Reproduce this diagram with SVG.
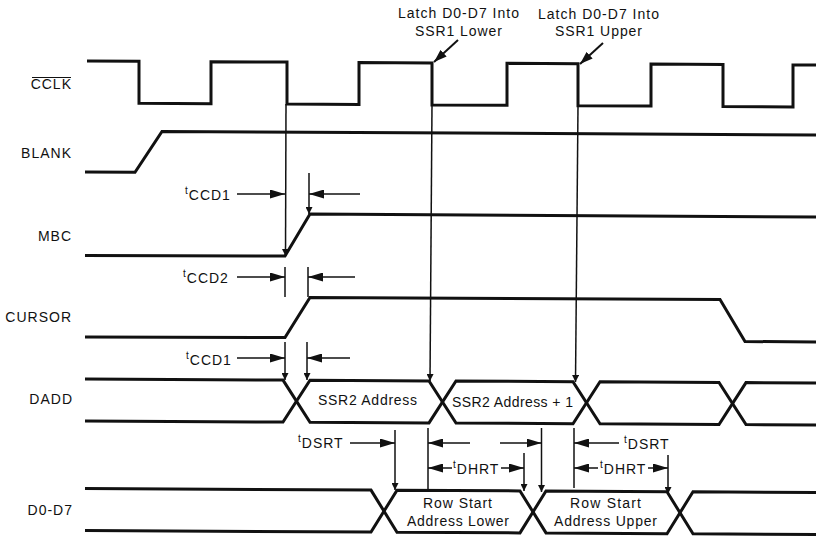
<svg xmlns="http://www.w3.org/2000/svg" width="816" height="537" viewBox="0 0 816 537">
<style>
text{font-family:"Liberation Sans",Arial,sans-serif;font-size:14px;fill:#111;letter-spacing:1px}
.lbl{text-anchor:end}
.t{font-size:10px}
.wave{fill:none;stroke:#111;stroke-width:3;stroke-linejoin:miter}
.ref{fill:none;stroke:#111;stroke-width:1.5}
.dim{fill:none;stroke:#111;stroke-width:1.5;marker-end:url(#ah)}
.refm{fill:none;stroke:#111;stroke-width:1.5;marker-end:url(#tip)}
</style>
<defs>
<marker id="ah" markerUnits="userSpaceOnUse" markerWidth="15" markerHeight="9" refX="15" refY="4.5" orient="auto"><path d="M0,0 L15,4.5 L0,9 Z" fill="#111"/></marker>
<marker id="tip" markerUnits="userSpaceOnUse" markerWidth="7" markerHeight="7" refX="7" refY="3.5" orient="auto"><path d="M0,0 L7,3.5 L0,7 Z" fill="#111"/></marker>
<marker id="lah" markerUnits="userSpaceOnUse" markerWidth="13" markerHeight="9" refX="13" refY="4.5" orient="auto"><path d="M0,0 L13,4.5 L0,9 Z" fill="#111"/></marker>
</defs>
<rect width="816" height="537" fill="#fff"/>

<g id="cclk">
<text class="lbl" x="72" y="89">CCLK</text>
<line x1="32" y1="77.5" x2="71" y2="77.5" stroke="#111" stroke-width="1.2"/>
<polyline class="wave" points="87,61 139,61.3 139,103.3 211,103.7 211,61.7 287,62.1 287,104.1 359,104.5 359,62.5 432,62.9 432,104.9 507,105.3 507,63.3 578,63.7 578,105.7 651,106.1 651,64.1 723,64.5 723,106.5 793,106.9 793,64.9 816,65"/>
</g>

<g id="blank">
<text class="lbl" x="72" y="158">BLANK</text>
<polyline class="wave" points="85,172 135,172.3 162,131.4 816,135"/>
</g>

<g id="mbc">
<text class="lbl" x="72" y="241">MBC</text>
<polyline class="wave" points="85,255.5 285,256 310,214 816,217"/>
</g>

<g id="cursor">
<text class="lbl" x="72" y="322">CURSOR</text>
<polyline class="wave" points="85,337 285,337.5 310,297.5 720,299.5 745,341.5 816,342"/>
</g>

<g id="dadd">
<text class="lbl" x="73" y="404">DADD</text>
<polyline class="wave" points="85,379 283,380.1 310,422.2 429,422.9 456,381 573,381.7 600,423.8 719,424.5 746,382.6 816,383"/>
<polyline class="wave" points="85,421 283,422.1 310,380.2 429,380.9 456,423 573,423.7 600,381.8 719,382.5 746,424.6 816,425"/>
<text x="318" y="405" textLength="100" lengthAdjust="spacing">SSR2 Address</text>
<text x="452" y="407" textLength="122" lengthAdjust="spacing">SSR2 Address + 1</text>
</g>

<g id="d0d7">
<text class="lbl" x="73" y="515">D0-D7</text>
<polyline class="wave" points="85,488.5 371,490.1 397,532.2 520,532.9 546,491 667,491.7 693,533.8 816,534.5"/>
<polyline class="wave" points="85,530.5 371,532.1 397,490.2 520,490.9 546,532.9 667,533.7 693,491.8 816,492.5"/>
<text x="423" y="508" textLength="70" lengthAdjust="spacing">Row Start</text>
<text x="407" y="526" textLength="103" lengthAdjust="spacing">Address Lower</text>
<text x="570" y="508" textLength="72" lengthAdjust="spacing">Row Start</text>
<text x="554" y="526" textLength="104" lengthAdjust="spacing">Address Upper</text>
</g>

<g id="latch-lower">
<text x="398" y="18" textLength="122" lengthAdjust="spacing">Latch D0-D7 Into</text>
<text x="415" y="36" textLength="88" lengthAdjust="spacing">SSR1 Lower</text>
</g>
<g id="latch-upper">
<text x="538" y="19" textLength="122" lengthAdjust="spacing">Latch D0-D7 Into</text>
<text x="555" y="36" textLength="88" lengthAdjust="spacing">SSR1 Upper</text>
</g>

<g id="connectors">
<!-- latch callouts -->
<line x1="458" y1="40" x2="434" y2="62" stroke="#111" stroke-width="2" marker-end="url(#lah)"/>
<line x1="603" y1="43" x2="580" y2="64" stroke="#111" stroke-width="2" marker-end="url(#lah)"/>

<!-- reference verticals -->
<line class="refm" x1="286" y1="104" x2="285.5" y2="256"/>
<line class="ref" x1="285" y1="267" x2="285" y2="297"/>
<line class="refm" x1="285" y1="342" x2="285" y2="380"/>
<line class="refm" x1="309" y1="173" x2="309" y2="214"/>
<line class="ref" x1="308" y1="267" x2="308" y2="297"/>
<line class="refm" x1="307" y1="342" x2="307" y2="380"/>
<line class="refm" x1="432" y1="105" x2="430" y2="381"/>
<line class="refm" x1="578" y1="106" x2="575.5" y2="382"/>
<line class="refm" x1="395" y1="430" x2="395" y2="490"/>
<line class="ref" x1="428" y1="428" x2="428" y2="489"/>
<line class="refm" x1="524" y1="453" x2="524" y2="491"/>
<line class="refm" x1="541.5" y1="428" x2="541.5" y2="492"/>
<line class="ref" x1="574" y1="428" x2="574" y2="488"/>
<line class="refm" x1="668" y1="455" x2="668" y2="494"/>

<!-- tCCD1 -->
<text x="185" y="200"><tspan class="t" dy="-6">t</tspan><tspan dy="6">CCD1</tspan></text>
<line class="dim" x1="237" y1="194" x2="285" y2="194"/>
<line class="dim" x1="360" y1="194" x2="309" y2="194"/>
<!-- tCCD2 -->
<text x="183" y="283"><tspan class="t" dy="-6">t</tspan><tspan dy="6">CCD2</tspan></text>
<line class="dim" x1="237" y1="277" x2="285" y2="277"/>
<line class="dim" x1="355" y1="277" x2="308" y2="277"/>
<!-- tCCD1 (DADD) -->
<text x="186" y="365"><tspan class="t" dy="-6">t</tspan><tspan dy="6">CCD1</tspan></text>
<line class="dim" x1="237" y1="358" x2="285" y2="358"/>
<line class="dim" x1="350" y1="358" x2="307" y2="358"/>

<!-- tDSRT lower -->
<text x="298" y="448"><tspan class="t" dy="-6">t</tspan><tspan dy="6">DSRT</tspan></text>
<line class="dim" x1="350" y1="443" x2="395" y2="443"/>
<line class="dim" x1="470" y1="443" x2="428" y2="443"/>
<line class="dim" x1="500" y1="443" x2="541.5" y2="443"/>
<!-- tDHRT lower -->
<line class="dim" x1="452" y1="468" x2="428" y2="468"/>
<text x="453" y="474"><tspan class="t" dy="-6">t</tspan><tspan dy="6">DHRT</tspan></text>
<line class="dim" x1="501" y1="468" x2="524" y2="468"/>

<!-- tDSRT upper -->
<line class="dim" x1="619" y1="443" x2="574" y2="443"/>
<text x="624" y="449"><tspan class="t" dy="-6">t</tspan><tspan dy="6">DSRT</tspan></text>
<!-- tDHRT upper -->
<line class="dim" x1="598" y1="468" x2="574" y2="468"/>
<text x="600" y="474"><tspan class="t" dy="-6">t</tspan><tspan dy="6">DHRT</tspan></text>
<line class="dim" x1="648" y1="468" x2="668" y2="468"/>
</g>
</svg>
